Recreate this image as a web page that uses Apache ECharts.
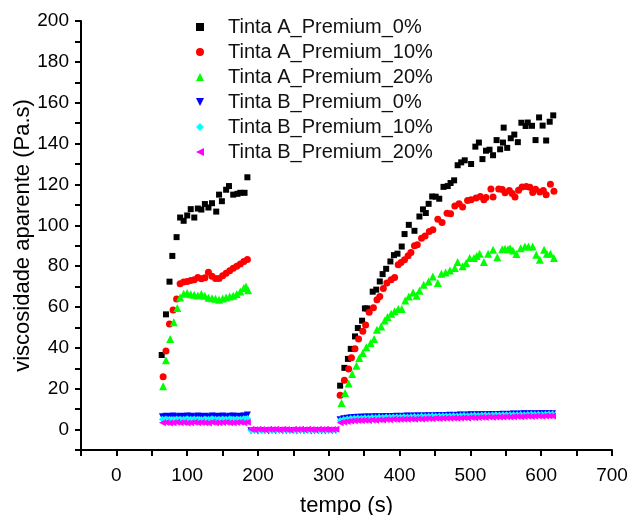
<!DOCTYPE html>
<html>
<head>
<meta charset="utf-8">
<script src="https://cdn.jsdelivr.net/npm/echarts@6/dist/echarts.min.js"></script>
<style>html,body{margin:0;padding:0;background:#fff}#c{width:629px;height:515px}</style>
</head>
<body>
<div id="c"></div>
<script>
const seriesNames = ['Tinta A_Premium_0%','Tinta A_Premium_10%','Tinta A_Premium_20%','Tinta B_Premium_0%','Tinta B_Premium_10%','Tinta B_Premium_20%'];
const xLabelStep = 100;   // labelled x ticks every 100 s (ticks every 50 s)
const yLabelStep = 20;    // labelled y ticks every 20 Pa.s (ticks every 10)

// Tinta A (time s, viscosity Pa.s)
const tintaA0 = [[64,36.5],[70,56.4],[75,72.4],[79,85],[85,94.2],[90,103.8],[95,102.2],[100,104.8],[105,107.9],[110,103.8],[115,108.2],[120,107.7],[125,110.4],[130,108.7],[135,110.8],[141,106.7],[145,115],[149,111.8],[155,117.4],[159,119.2],[165,115],[171,115.4],[175,115.9],[181,115.9],[185,123.5],
 [316,21.5],[322,30.2],[327,34.6],[331,39.5],[337,45.6],[341,49.7],[347,53.3],[351,59.3],[354,59.3],[362,67.5],[367,68.5],[372,72.5],[376,76.1],[381,78.7],[387,82.3],[392,85.4],[397,86.1],[403,89.6],[407,95.7],[413,100.2],[421,97.3],[428,104.3],[433,107.8],[437,106],[441,110.5],[446,114.1],[451,114],[456,113],[462,118.8],[468,119.2],[472,120.7],[477,122],[482,129.4],[487,130.8],[492,131.8],[501,130],[507,138.5],[512,140.5],[517,132.4],[522,136.5],[527,137],[532,134.3],[537,141.7],[542,137.2],[546,140.5],[547,147.8],[552,137.9],[557,142.6],[562,144.4],[567,140.7],[572,150.2],[578,148.6],[581,150.3],[587,148.7],[592,141.7],[597,152.8],[602,148.8],[607,141.5],[612,150.7],[617,153.8]];
const tintaA10 = [[66,25.8],[70,38.5],[75,51.7],[80,58.5],[85,63.9],[90,71.4],[95,72.2],[100,72.5],[105,73],[110,73.4],[115,74.5],[120,73.8],[125,74.3],[130,77],[135,75],[140,74],[145,74],[150,75.3],[155,76.5],[160,77.8],[165,79],[170,80],[175,81],[180,82.3],[185,83.3],
 [316,16.8],[322,24.1],[328,29.7],[332,35.2],[337,39.6],[342,44.3],[348,48.1],[352,51.2],[357,57.4],[363,59.6],[368,63.6],[372,65.2],[377,69.1],[382,71.7],[388,73.3],[393,74.5],[398,80.7],[402,81.8],[407,83.1],[412,85.1],[416,86.7],[421,90],[425,90.5],[431,93.7],[436,94.8],[442,97],[447,97.8],[454,103],[460,101.4],[467,105.9],[472,105.6],[478,109.5],[484,110.5],[489,108.9],[496,112.1],[501,112.5],[508,113.3],[514,114.1],[519,112.5],[522,113.6],[529,117.8],[532,113.8],[540,117.8],[545,117.5],[549,115.9],[555,117],[559,115.5],[563,113.8],[568,117.2],[573,118.7],[579,119],[584,118.6],[588,116],[592,117.6],[598,116.3],[603,117],[607,114.9],[613,120.1],[618,116.7]];
const tintaA20 = [[66,21.2],[70,33.9],[76,44.3],[81,52.5],[86,59.5],[90,64.7],[95,66.5],[100,66.8],[105,66.2],[110,66],[115,65.6],[120,66.4],[125,65.5],[130,64.5],[135,64.3],[140,64],[145,63.6],[150,64.1],[155,64.6],[160,65.2],[165,65.5],[170,66.4],[175,67.6],[180,69.3],[183,70],[186,68.2],
 [318,13],[323,17.9],[328,22.5],[333,27.2],[339,31.3],[343,35],[348,37.5],[353,40.3],[359,42.4],[364,44.3],[368,48.9],[374,50.5],[379,53.4],[383,55.1],[388,56.7],[393,57.9],[398,59],[403,59],[408,63.2],[413,65.2],[419,67.1],[424,65.5],[428,67.9],[434,70.9],[441,72.5],[447,74.9],[454,71.7],[459,76.3],[465,76.9],[471,77.9],[478,79.1],[482,82],[489,79.9],[494,81.5],[499,84],[505,84],[509,85],[513,86.1],[519,82],[525,86.1],[532,88],[538,84.3],[545,88.3],[549,88.5],[553,88.3],[556,88.8],[560,87.7],[565,85.9],[571,88.8],[577,89.6],[582,89.6],[588,89.6],[593,85.6],[598,83.1],[604,88],[608,86.1],[613,86.1],[618,84]];

// Tinta B: shared time stamps per test interval
const tB1 = [65,70,75,80,85,90,95,100,105,110,115,120,125,130,135,140,145,150,155,160,165,170,175,180,185];
const tB2 = [190,195,200,205,210,215,220,225,230,235,240,245,250,255,260,265,270,275,280,285,290,295,300,305,310];
const tB3 = [316,321,326,331,336,341,346,351,356,361,366,371,376,381,386,391,396,401,406,411,416,421,426,431,436,441,446,451,456,461,466,471,476,481,486,491,496,501,506,511,516,521,526,531,536,541,546,551,556,561,566,571,576,581,586,591,596,601,606,611,616];

const tintaB0_1 = [6.3,6.5,6.4,6.6,6.3,6.5,6.4,6.6,6.5,6.3,6.6,6.4,6.5,6.3,6.6,6.5,6.4,6.6,6.3,6.5,6.6,6.4,6.5,6.7,7.1];
const tintaB0_2 = [-0.6,-0.5,-0.7,-0.5,-0.6,-0.7,-0.5,-0.6,-0.5,-0.7,-0.6,-0.5,-0.6,-0.7,-0.5,-0.6,-0.5,-0.7,-0.6,-0.5,-0.6,-0.7,-0.5,-0.6,-0.5];
const tintaB0_3 = [4.8,5.3,5.6,5.8,5.9,6.0,6.0,6.1,6.2,6.1, 6.3,6.2,6.3,6.4,6.3,6.4,6.5,6.4,6.5,6.6, 6.5,6.6,6.7,6.6,6.7,6.8,6.7,6.8,6.9,6.8, 6.9,7.0,6.9,7.0,7.1,7.0,7.1,7.2,7.1,7.2, 7.3,7.2,7.3,7.4,7.3,7.4,7.5,7.4,7.5,7.6, 7.5,7.6,7.7,7.6,7.7,7.6,7.7,7.8,7.7,7.8, 7.8];

const tintaB10_1 = [5.0,5.2,5.1,4.9,5.2,5.0,5.1,5.3,5.0,5.2,5.1,4.9,5.2,5.0,5.3,5.1,5.0,5.2,5.1,5.3,5.0,5.2,5.1,5.3,5.4];
const tintaB10_2 = [-0.3,-0.4,-0.2,-0.4,-0.3,-0.2,-0.4,-0.3,-0.2,-0.4,-0.3,-0.2,-0.4,-0.3,-0.2,-0.3,-0.4,-0.2,-0.3,-0.4,-0.2,-0.3,-0.4,-0.3,-0.2];
const tintaB10_3 = [4.4,4.9,5.2,5.4,5.5,5.7,5.6,5.8,5.7,5.9, 5.8,6.0,5.9,6.1,6.0,6.2,6.1,6.2,6.3,6.2, 6.3,6.4,6.3,6.5,6.4,6.5,6.6,6.5,6.6,6.7, 6.6,6.7,6.8,6.7,6.8,6.9,6.8,6.9,7.0,6.9, 7.0,7.1,7.0,7.1,7.2,7.1,7.2,7.3,7.2,7.3, 7.3,7.4,7.3,7.4,7.5,7.4,7.5,7.4,7.5,7.6, 7.6];

const tintaB20_1 = [3.3,3.5,3.2,3.4,3.6,3.3,3.5,3.2,3.4,3.6,3.3,3.5,3.4,3.2,3.6,3.4,3.3,3.5,3.6,3.4,3.3,3.5,3.6,3.4,3.6];
const tintaB20_2 = [0.1,-0.1,0.2,0.0,-0.1,0.1,0.0,0.2,-0.1,0.1,0.0,-0.2,0.1,0.0,0.2,-0.1,0.1,0.0,-0.1,0.2,0.0,0.1,-0.1,0.0,0.1];
const tintaB20_3 = [3.3,3.7,4.0,4.2,4.3,4.5,4.4,4.6,4.5,4.7, 4.6,4.8,4.7,4.9,4.8,5.0,4.9,5.1,5.0,5.1, 5.2,5.1,5.3,5.2,5.3,5.4,5.3,5.5,5.4,5.5, 5.6,5.5,5.7,5.6,5.7,5.8,5.7,5.9,5.8,5.9, 6.0,5.9,6.1,6.0,6.1,6.2,6.1,6.3,6.2,6.3, 6.4,6.3,6.4,6.5,6.4,6.5,6.6,6.5,6.6,6.7, 6.7];

function zipB(v1, v2, v3) {
  const out = [];
  tB1.forEach((t, i) => out.push([t, v1[i]]));
  tB2.forEach((t, i) => out.push([t, v2[i]]));
  tB3.forEach((t, i) => out.push([t, v3[i]]));
  return out;
}

const FONT = "'Liberation Sans', Arial, sans-serif";
const DOWN_TRI = 'path://M0,0 L10,0 L5,10 Z';
const LEFT_TRI = 'path://M10,0 L10,10 L0,5 Z';
const chart = echarts.init(document.getElementById('c'), null, {renderer: 'canvas'});

const mk = (name, data, symbol, size, color) => ({
  name, type: 'scatter', data, symbol, symbolSize: size,
  symbolKeepAspect: true,
  itemStyle: {color, opacity: 1},
  emphasis: {disabled: true}, animation: false
});

const lineStyle = {color: '#000', width: 2};
const stepLabel = step => v => (v >= 0 && Math.round(v) % step === 0) ? String(Math.round(v)) : '';

chart.setOption({
  backgroundColor: '#fff',
  animation: false,
  grid: {left: 81, right: 17, top: 21, bottom: 65, outerBoundsMode: 'none', containLabel: false},
  legend: {
    orient: 'vertical', left: 196, top: 17, padding: 0,
    itemWidth: 8, itemHeight: 8, itemGap: 5, symbolKeepAspect: true,
    textStyle: {fontSize: 20, lineHeight: 20, color: '#111', fontFamily: FONT, padding: [0, 0, 0, 19]},
    data: seriesNames
  },
  xAxis: {
    type: 'value', min: -50, max: 700, interval: 50, position: 'bottom',
    axisLine: {show: true, onZero: false, lineStyle},
    splitLine: {show: false},
    axisTick: {show: true, inside: false, length: 6, lineStyle},
    axisLabel: {formatter: stepLabel(xLabelStep), showMinLabel: true, showMaxLabel: true, hideOverlap: false,
      fontSize: 19, color: '#000', margin: 16, fontFamily: FONT},
    name: 'tempo (s)', nameLocation: 'middle', nameGap: 45, nameMoveOverlap: false,
    nameTextStyle: {fontSize: 22, color: '#000', fontFamily: FONT}
  },
  yAxis: {
    type: 'value', min: -10, max: 200, interval: 10, position: 'left',
    axisLine: {show: true, onZero: false, lineStyle},
    splitLine: {show: false},
    axisTick: {show: true, inside: false, length: 6, lineStyle},
    axisLabel: {formatter: stepLabel(yLabelStep), showMinLabel: true, showMaxLabel: true, hideOverlap: false,
      fontSize: 19, color: '#000', margin: 12, fontFamily: FONT},
    name: 'viscosidade aparente (Pa.s)', nameLocation: 'middle', nameGap: 47, nameRotate: 90, nameMoveOverlap: false,
    nameTextStyle: {fontSize: 22, color: '#000', fontFamily: FONT}
  },
  series: [
    mk(seriesNames[0], tintaA0, 'rect', 6, '#000000'),
    mk(seriesNames[1], tintaA10, 'circle', 7, '#ff0000'),
    mk(seriesNames[2], tintaA20, 'triangle', 8, '#00ff00'),
    mk(seriesNames[3], zipB(tintaB0_1, tintaB0_2, tintaB0_3), DOWN_TRI, 7, '#0000ff'),
    mk(seriesNames[4], zipB(tintaB10_1, tintaB10_2, tintaB10_3), 'diamond', 7, '#00ffff'),
    mk(seriesNames[5], zipB(tintaB20_1, tintaB20_2, tintaB20_3), LEFT_TRI, 7, '#ff00ff')
  ]
});
</script>
</body>
</html>
